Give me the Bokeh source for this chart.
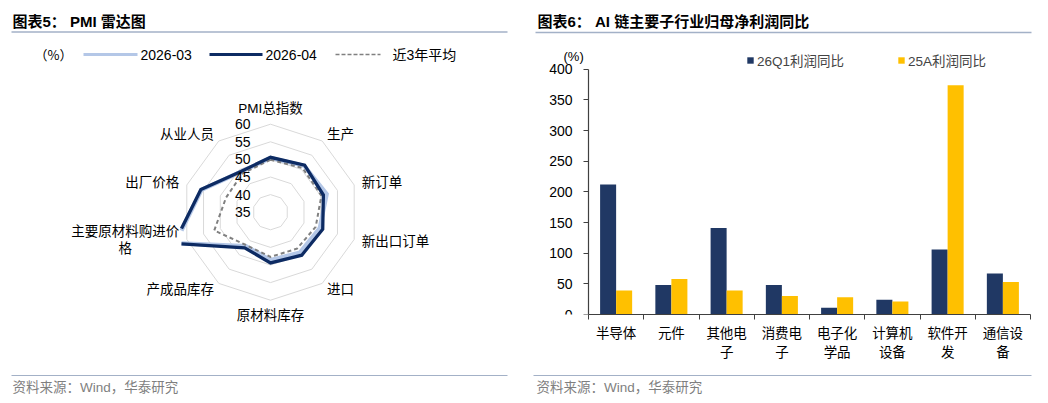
import numpy as np
from bokeh.plotting import figure
from bokeh.models import Range1d, Label, ColumnDataSource, FixedTicker, Legend, LegendItem
from bokeh.layouts import row, column
from bokeh.transform import dodge
from bokeh.core.properties import value
from bokeh.embed import file_html
from bokeh.resources import INLINE

# ---------------- data: PMI radar ----------------
radar_axes = ["PMI总指数", "生产", "新订单", "新出口订单", "进口", "原材料库存",
              "产成品库存", "主要原材料购进价格", "出厂价格", "从业人员"]
pmi_2026_03 = [50.4, 51.3, 51.8, 49.7, 49.2, 48.6, 46.9, 63.4, 55.6, 49.2]
pmi_2026_04 = [50.6, 51.5, 50.8, 50.6, 50.1, 49.4, 47.5, 63.8, 55.8, 49.3]
pmi_3y_avg = [49.9, 50.5, 50.2, 48.5, 47.8, 47.7, 46.6, 51.8, 48.3, 48.6]
radar_ticks = [35, 40, 45, 50, 55, 60]
radar_series_names = ["2026-03", "2026-04", "近3年平均"]

# ---------------- data: profit bars ----------------
industries = ["半导体", "元件", "其他电子", "消费电子", "电子化学品", "计算机设备", "软件开发", "通信设备"]
industry_labels = ["半导体", "元件", "其他电\n子", "消费电\n子", "电子化\n学品", "计算机\n设备", "软件开\n发", "通信设\n备"]
profit_26q1 = [212, 48, 141, 48, 11, 24, 106, 67]
profit_25a = [39, 58, 39, 30, 28, 21, 374, 53]
bar_ticks = [0, 50, 100, 150, 200, 250, 300, 350, 400]
bar_series_names = ["26Q1利润同比", "25A利润同比"]

# ---------------- styles ----------------
CJK = "Noto Sans CJK SC"
MIX = "'Liberation Sans', 'Noto Sans CJK SC'"
LAT = "Liberation Sans"
RULE = "#A3B1C7"
AX = "#404040"
C_LIGHT = "#B4C7E7"
C_DARK = "#0D2B63"
C_AVG = "#808080"
C_BAR1 = "#203864"
C_BAR2 = "#FFC000"
FOOT = "资料来源：Wind，华泰研究"
PAGE_W, PAGE_H = 1046, 401
SPLIT = 528


def blank(width, height, xr, yr, **kw):
    return figure(width=width, height=height, x_range=xr, y_range=yr,
                  x_axis_type=None, y_axis_type=None, toolbar_location=None,
                  output_backend="svg", outline_line_color=None, frame_align=False,
                  background_fill_color="white", border_fill_color="white",
                  min_border=0, **kw)


def txt(p, x, y, s, font=MIX, size="13.5px", color="black", align="left",
        baseline="middle", style="normal", lh=1.2):
    p.text(x=[x], y=[y], text=[s], text_font=value(font), text_font_size=size,
           text_color=color, text_align=align, text_baseline=baseline,
           text_font_style=style, text_line_height=lh)


# ================= LEFT PANEL (one figure, page pixel coordinates) =================
pl = blank(SPLIT, PAGE_H, Range1d(0, SPLIT), Range1d(PAGE_H, 0))

txt(pl, 12, 21, "图表5：  PMI 雷达图", size="15px", style="bold")
pl.line(x=[11, 507], y=[31.5, 31.5], line_color=RULE, line_width=1.3)
txt(pl, 34, 54, "（%）", font=CJK, size="13px")
pl.line(x=[83, 137], y=[54, 54], line_color=C_LIGHT, line_width=3)
pl.line(x=[209, 262], y=[54, 54], line_color=C_DARK, line_width=3)
pl.line(x=[335, 380], y=[54, 54], line_color=C_AVG, line_width=1.5, line_dash="4 2")
for lx, name in zip([140, 265, 392], radar_series_names):
    txt(pl, lx, 54, name, size="14px")

CX, CY = 270.0, 211.7      # radar centre (px)
CLIP_X = 181.0             # left edge of the radar plot area (long spike is cut there)
K = 3.52                   # px per index point
theta = np.deg2rad(np.arange(len(radar_axes)) * 360.0 / len(radar_axes))


def rad(v):
    return (np.asarray(v, dtype=float) - radar_ticks[0]) * K


def poly(vals):
    r = rad(vals)
    xs = CX + r * np.sin(theta)
    ys = CY - r * np.cos(theta)
    return list(np.append(xs, xs[0])), list(np.append(ys, ys[0]))


def clip_left(xs, ys, xmin):
    pieces, cx, cy = [], [], []
    for i in range(len(xs) - 1):
        x0, y0, x1, y1 = xs[i], ys[i], xs[i + 1], ys[i + 1]
        in0, in1 = x0 >= xmin, x1 >= xmin
        if in0 and not cx:
            cx, cy = [x0], [y0]
        if in0 and in1:
            cx.append(x1); cy.append(y1)
        elif in0 and not in1:
            t = (xmin - x0) / (x1 - x0)
            cx.append(xmin); cy.append(y0 + t * (y1 - y0))
            pieces.append((cx, cy)); cx, cy = [], []
        elif in1 and not in0:
            t = (xmin - x0) / (x1 - x0)
            cx, cy = [xmin, x1], [y0 + t * (y1 - y0), y1]
    if cx:
        pieces.append((cx, cy))
    if len(pieces) > 1 and pieces[-1][0][-1] == pieces[0][0][0] and pieces[-1][1][-1] == pieces[0][1][0]:
        first = pieces.pop(0)
        last = pieces.pop()
        pieces.append((last[0] + first[0][1:], last[1] + first[1][1:]))
    return [p[0] for p in pieces], [p[1] for p in pieces]


ring_xs, ring_ys = [], []
for t in radar_ticks[1:]:
    xs, ys = poly([t] * len(radar_axes))
    ring_xs.append(xs)
    ring_ys.append(ys)
pl.multi_line(xs=ring_xs, ys=ring_ys, line_color="#D9D9D9", line_width=1)

mx, my = clip_left(*poly(pmi_2026_03), CLIP_X)
pl.multi_line(xs=mx, ys=my, line_color=C_LIGHT, line_width=4.2, line_join="miter")
mx, my = clip_left(*poly(pmi_3y_avg), CLIP_X)
pl.multi_line(xs=mx, ys=my, line_color=C_AVG, line_width=2, line_dash="4 3", line_join="miter")
mx, my = clip_left(*poly(pmi_2026_04), CLIP_X)
pl.multi_line(xs=mx, ys=my, line_color=C_DARK, line_width=3.3, line_join="miter")

pl.text(x=[CX - 20] * len(radar_ticks), y=list(CY - rad(radar_ticks)),
        text=[str(t) for t in radar_ticks], text_font=value(LAT), text_font_size="14px",
        text_align="right", text_baseline="middle", text_color="black")

R_LAB = 96
wrap = {"主要原材料购进价格": "主要原材料购进价\n格"}
for name, th in zip(radar_axes, theta):
    s, c = np.sin(th), np.cos(th)
    lx, ly = CX + R_LAB * s, CY - R_LAB * c
    align = "left" if s > 0.1 else ("right" if s < -0.1 else "center")
    base = "bottom" if c > 0.9 else ("top" if c < -0.9 else "middle")
    t_ = wrap.get(name, name)
    lh = 1.0
    if "\n" in t_:
        lx -= 13.5 * len(t_.split("\n")[0]) / 2
        ly -= 2
        align = "center"
        lh = 1.15
    txt(pl, lx, ly, t_, align=align, baseline=base, lh=lh)

pl.line(x=[11, 507], y=[375, 375], line_color=RULE, line_width=1.2)
txt(pl, 12, 386.5, FOOT, color="#7F7F7F")

# ================= RIGHT PANEL =================
RW = PAGE_W - SPLIT
hr = blank(RW, 46, Range1d(SPLIT, PAGE_W), Range1d(46, 0))
txt(hr, 537, 21, "图表6：  AI 链主要子行业归母净利润同比", size="15px", style="bold")
hr.line(x=[535, 1031], y=[32, 32], line_color=RULE, line_width=1.3)

BH, BB = 326, 58                 # bar figure height, bottom border
AXIS_X = 588.0                   # page x of the value axis
CATW = 55.25                     # px per category
FRAME_L = 538.0
YTOP = 437.0
x_start = -(AXIS_X - FRAME_L) / CATW
frame_r = AXIS_X + CATW * len(industries)
pb = figure(width=RW, height=BH, x_range=Range1d(x_start, len(industries)), y_range=Range1d(0, YTOP),
            toolbar_location=None, output_backend="svg", outline_line_color=None, frame_align=False,
            min_border_left=int(FRAME_L - SPLIT), min_border_right=int(round(PAGE_W - frame_r)),
            min_border_top=0, min_border_bottom=BB,
            background_fill_color="white", border_fill_color="white")
pos = [i + 0.5 for i in range(len(industries))]
src = ColumnDataSource(dict(pos=pos, cat=industries, q1=profit_26q1, a25=profit_25a))
r1 = pb.vbar(x=dodge("pos", -0.145), top="q1", width=0.29, source=src,
             fill_color=C_BAR1, line_color=None)
r2 = pb.vbar(x=dodge("pos", 0.145), top="a25", width=0.29, source=src,
             fill_color=C_BAR2, line_color=None)
pb.grid.visible = False

xa_ = pb.xaxis[0]
xa_.bounds = (0, len(industries))
xa_.ticker = FixedTicker(ticks=pos, minor_ticks=list(range(len(industries) + 1)))
xa_.major_label_overrides = {p: lab for p, lab in zip(pos, industry_labels)}
xa_.major_tick_line_color = None
xa_.major_tick_out = 0
xa_.major_tick_in = 0
xa_.minor_tick_out = 5
xa_.minor_tick_in = 0
xa_.minor_tick_line_color = AX
xa_.axis_line_color = AX
xa_.axis_line_width = 1.2
xa_.major_label_standoff = 2
xa_.major_label_text_font = CJK
xa_.major_label_text_font_size = "13.5px"
xa_.major_label_text_line_height = 0.97
xa_.major_label_text_color = "black"

ya_ = pb.yaxis[0]
ya_.fixed_location = 0
ya_.ticker = FixedTicker(ticks=bar_ticks)
ya_.bounds = (bar_ticks[0], bar_ticks[-1])
ya_.major_tick_out = 5
ya_.major_tick_in = 0
ya_.minor_tick_line_color = None
ya_.major_tick_line_color = AX
ya_.axis_line_color = AX
ya_.axis_line_width = 1.2
ya_.major_label_standoff = 11
ya_.major_label_text_font = LAT
ya_.major_label_text_font_size = "14px"
ya_.major_label_text_color = "black"

px_per_unit = (BH - BB) / YTOP
pb.add_layout(Label(x=-25 / CATW, y=bar_ticks[-1] + 13 / px_per_unit, text="(%)",
                    text_font=LAT, text_font_size="13px", text_align="left",
                    text_baseline="middle", text_color="black"))

legend = Legend(items=[LegendItem(label=bar_series_names[0], renderers=[r1]),
                       LegendItem(label=bar_series_names[1], renderers=[r2])],
                orientation="horizontal", location=(int(746.7 - FRAME_L), 244),
                glyph_width=8, glyph_height=8, label_standoff=3, spacing=53, padding=0,
                margin=0, label_height=14, label_text_font=MIX, label_text_font_size="13.5px",
                background_fill_alpha=0, border_line_color=None)
pb.add_layout(legend)

fr = blank(RW, PAGE_H - 46 - BH, Range1d(SPLIT, PAGE_W), Range1d(PAGE_H, 46 + BH))
fr.line(x=[533, 1031], y=[375, 375], line_color=RULE, line_width=1.2)
txt(fr, 536, 387, FOOT, color="#7F7F7F")

layout = row(pl, column(hr, pb, fr))
open("out.html", "w").write(file_html(layout, INLINE))
